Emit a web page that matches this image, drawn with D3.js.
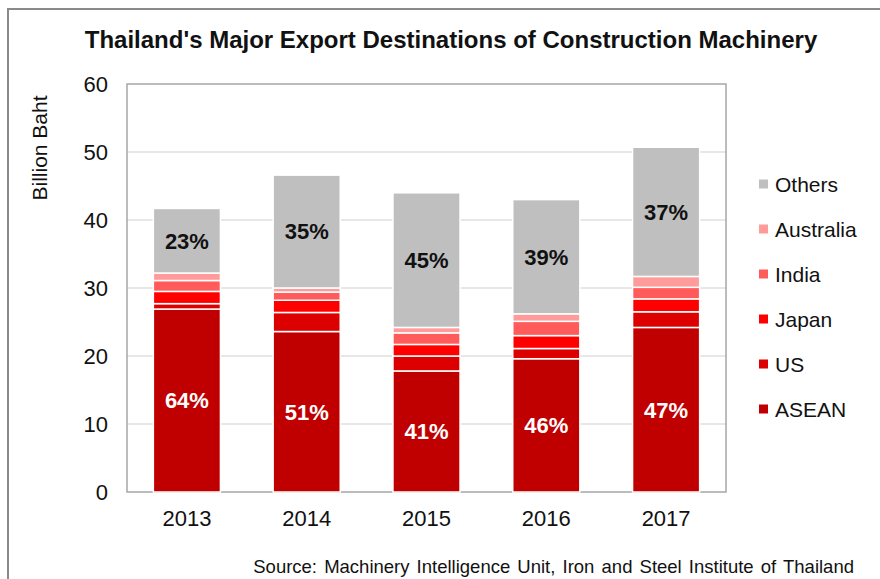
<!DOCTYPE html>
<html>
<head>
  <meta charset="utf-8">
  <script src="https://d3js.org/d3.v7.min.js"></script>
  <style>
  body {
    margin:0;
    background:#fff;
  }
  text {
    font-family: "Liberation Sans", Arial, sans-serif;
  }
  .axis text {
    font-size: 22px;
    fill: #111;
  }
</style>
</head>
<body>
<script>

  // data (billion baht)
  var years = ["2013", "2014", "2015", "2016", "2017"];
  var series = ["ASEAN", "US", "Japan", "India", "Australia", "Others"];
  var asean = [26.9, 23.6, 17.8, 19.6, 24.2];
  var us = [0.8, 2.8, 2.2, 1.5, 2.3];
  var japan = [1.8, 1.8, 1.7, 1.9, 1.9];
  var india = [1.6, 1.2, 1.7, 2.1, 1.7];
  var australia = [1.1, 0.6, 0.8, 1.1, 1.6];
  var others = [9.5, 16.6, 19.8, 16.8, 19.0];
  var aseanPct = ["64%", "51%", "41%", "46%", "47%"];
  var othersPct = ["23%", "35%", "45%", "39%", "37%"];
  var yTicks = [0, 10, 20, 30, 40, 50, 60];

  var colors = {
    "ASEAN": "#c00000",
    "US": "#dc0000",
    "Japan": "#ff0000",
    "India": "#ff5b5b",
    "Australia": "#ff9b9b",
    "Others": "#bfbfbf"
  };

  var table = years.map((y, i) => {
    return {year: y, ASEAN: asean[i], US: us[i], Japan: japan[i],
      India: india[i], Australia: australia[i], Others: others[i]};
  });

  var plot = {left: 127, right: 726, top: 84, bottom: 492};

  var svg = d3.select("body").append("svg")
    .attr("width", 880)
    .attr("height", 579);

  // outer frame
  svg.append("rect")
    .attr("x", 8).attr("y", 9)
    .attr("width", 900).attr("height", 620)
    .attr("fill", "none")
    .attr("stroke", "#8a8a8a")
    .attr("stroke-width", 2);

  var x = d3.scaleBand().domain(years)
    .range([plot.left, plot.right])
    .paddingInner(0.44).paddingOuter(0.22);
  var y = d3.scaleLinear().domain([0, 60]).range([plot.bottom, plot.top]);

  // gridlines
  svg.append("g")
    .selectAll("line")
    .data(yTicks.slice(1, -1))
    .enter().append("line")
    .attr("x1", plot.left).attr("x2", plot.right)
    .attr("y1", d => y(d)).attr("y2", d => y(d))
    .attr("stroke", "#cfcfcf")
    .attr("stroke-width", 1.2);

  // plot frame
  svg.append("rect")
    .attr("x", plot.left).attr("y", plot.top)
    .attr("width", plot.right - plot.left)
    .attr("height", plot.bottom - plot.top)
    .attr("fill", "none")
    .attr("stroke", "#a6a6a6")
    .attr("stroke-width", 1.5);

  var stack = d3.stack().keys(series)(table);

  var layer = svg.selectAll(".layer")
    .data(stack)
    .enter().append("g")
    .attr("class", "layer")
    .attr("fill", d => colors[d.key]);

  layer.selectAll("rect")
    .data(d => d)
    .enter().append("rect")
    .attr("x", d => x(d.data.year))
    .attr("width", x.bandwidth())
    .attr("y", d => y(d[1]))
    .attr("height", d => y(d[0]) - y(d[1]))
    .attr("stroke", "#fff")
    .attr("stroke-width", 1.5);

  // percentage labels
  var aseanLayer = stack[0], othersLayer = stack[5];
  svg.append("g").selectAll("text")
    .data(aseanLayer)
    .enter().append("text")
    .attr("x", d => x(d.data.year) + x.bandwidth() / 2)
    .attr("y", d => (y(d[0]) + y(d[1])) / 2)
    .attr("dy", "0.36em")
    .attr("text-anchor", "middle")
    .attr("font-size", 22)
    .attr("font-weight", "bold")
    .attr("fill", "#fff")
    .text((d, i) => aseanPct[i]);

  svg.append("g").selectAll("text")
    .data(othersLayer)
    .enter().append("text")
    .attr("x", d => x(d.data.year) + x.bandwidth() / 2)
    .attr("y", d => (y(d[0]) + y(d[1])) / 2)
    .attr("dy", "0.36em")
    .attr("text-anchor", "middle")
    .attr("font-size", 22)
    .attr("font-weight", "bold")
    .attr("fill", "#111")
    .text((d, i) => othersPct[i]);

  // axes
  var yAxis = d3.axisLeft(y).tickValues(yTicks).tickSize(0).tickPadding(19);
  svg.append("g")
    .attr("class", "y axis")
    .attr("transform", "translate(" + plot.left + ",0)")
    .call(yAxis)
    .call(g => g.select(".domain").remove());

  var xAxis = d3.axisBottom(x).tickSize(0).tickPadding(18);
  svg.append("g")
    .attr("class", "x axis")
    .attr("transform", "translate(0," + plot.bottom + ")")
    .call(xAxis)
    .call(g => g.select(".domain").remove());

  svg.selectAll(".axis text").attr("font-family", null);

  // axis title
  svg.append("text")
    .attr("transform", "translate(47,148) rotate(-90)")
    .attr("text-anchor", "middle")
    .attr("font-size", 21)
    .attr("fill", "#111")
    .text("Billion Baht");

  // title
  svg.append("text")
    .attr("x", 451).attr("y", 48)
    .attr("text-anchor", "middle")
    .attr("font-size", 24)
    .attr("font-weight", "bold")
    .attr("fill", "#111")
    .text("Thailand's Major Export Destinations of Construction Machinery");

  // legend
  var legendOrder = series.slice().reverse();
  var legend = svg.append("g").selectAll("g")
    .data(legendOrder)
    .enter().append("g")
    .attr("transform", (d, i) => "translate(759," + (184 + i * 45) + ")");

  legend.append("rect")
    .attr("x", 0).attr("y", -4.5)
    .attr("width", 9).attr("height", 9)
    .attr("fill", d => colors[d]);

  legend.append("text")
    .attr("x", 16)
    .attr("dy", "0.36em")
    .attr("font-size", 21)
    .attr("fill", "#111")
    .text(d => d);

  // source
  svg.append("text")
    .attr("x", 854).attr("y", 573)
    .attr("text-anchor", "end")
    .attr("font-size", 18.5)
    .attr("word-spacing", 2)
    .attr("fill", "#111")
    .text("Source: Machinery Intelligence Unit, Iron and Steel Institute of Thailand");

</script>
</body>
</html>
